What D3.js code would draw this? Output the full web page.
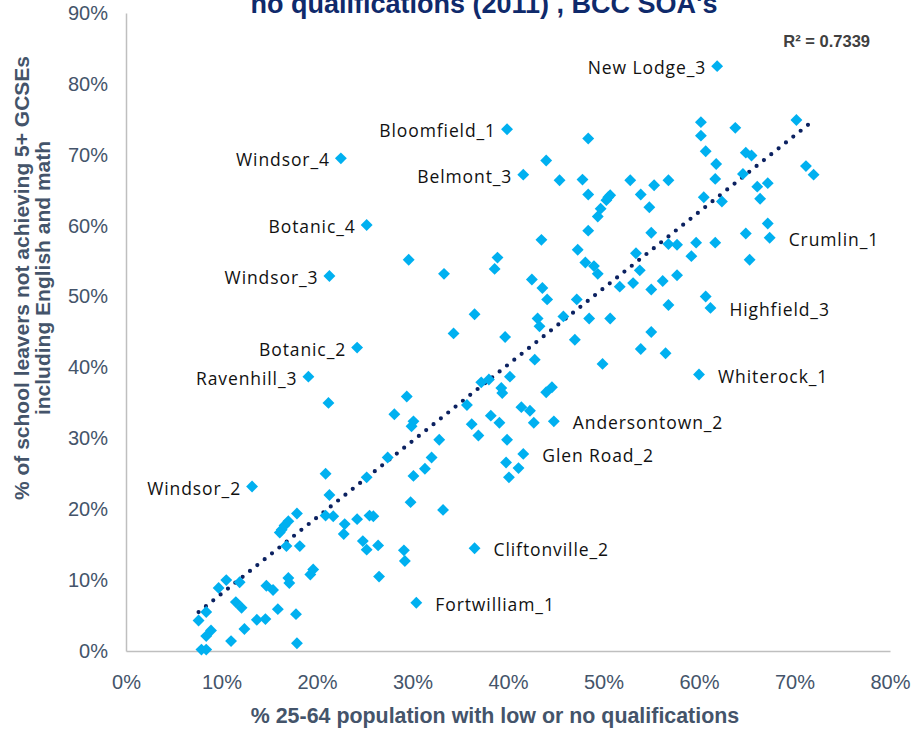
<!DOCTYPE html>
<html>
<head>
<meta charset="utf-8">
<script src="https://cdn.jsdelivr.net/npm/d3@7"></script>
<style>
  html, body { margin: 0; padding: 0; background: #fff; }
  svg { display: block; }
</style>
</head>
<body>
<div id="chart"></div>
<script>
// ---- Data (percent values) ----
const labelNames = ["New Lodge_3","Bloomfield_1","Windsor_4","Belmont_3","Botanic_4","Windsor_3","Botanic_2","Ravenhill_3","Windsor_2",
  "Crumlin_1","Highfield_3","Whiterock_1","Andersontown_2","Glen Road_2","Cliftonville_2","Fortwilliam_1"];
const rightSideLabels = ["Crumlin_1","Highfield_3","Whiterock_1","Andersontown_2","Glen Road_2","Cliftonville_2","Fortwilliam_1"];

// % 25-64 population with low or no qualifications (first 16 are the labelled SOAs)
const lowQual = [61.9,39.9,22.5,41.6,25.2,21.3,24.2,19.1,13.2,67.4,61.2,60.0,44.8,41.6,36.5,30.4,
  20.9,21.3,20.9,21.7,17.9,17.0,16.6,16.3,16.1,16.8,18.2,19.6,19.3,17.0,17.1,15.9,17.8,17.9,14.7,15.4,13.7,14.6,12.4,11.0,11.9,10.5,9.7,11.5,12.1,7.6,8.4,8.9,8.4,7.9,8.4,
  22.9,22.8,24.2,25.5,25.9,24.8,25.2,26.4,26.5,29.1,29.2,29.8,33.2,30.1,31.3,32.0,32.8,29.9,30.1,27.4,25.2,36.2,36.9,39.1,39.9,39.8,41.1,40.1,42.7,
  21.2,29.6,33.3,36.5,34.3,29.4,28.1,35.7,38.2,37.2,38.0,39.3,39.4,40.2,39.7,42.8,43.1,43.3,45.8,47.0,47.2,41.4,42.3,44.0,44.6,43.5,38.9,38.6,42.5,43.6,44.1,47.3,
  54.8,49.7,49.4,48.4,48.1,49.0,49.4,48.5,50.7,49.9,55.0,53.4,53.8,53.1,51.7,55.0,56.2,56.8,57.7,59.7,59.2,57.7,56.8,55.0,53.9,56.5,60.7,61.7,64.9,65.3,67.2,
  70.2,60.2,60.2,63.8,60.7,48.4,64.9,65.5,61.8,64.6,71.2,72.0,61.7,66.1,67.2,66.4,60.5,62.4,45.4,47.8,48.4,52.8,53.9,55.3,56.8,50.5,50.7,50.3,44.0];

// % of school leavers not achieving 5+ GCSEs including English and maths
const noGcse = [82.5,73.6,69.5,67.2,60.1,52.9,42.8,38.7,23.2,58.3,48.4,39.0,32.4,27.8,14.5,6.8,
  25.0,22.0,19.1,19.0,19.4,18.3,17.7,17.1,16.7,14.8,14.8,11.5,10.8,10.3,9.6,5.9,5.2,1.1,9.2,8.6,4.4,4.5,3.1,1.4,9.7,10.0,8.9,6.9,6.1,4.3,5.5,2.9,2.1,0.2,0.2,
  17.9,16.5,18.6,19.1,19.0,15.5,14.3,14.9,10.5,14.2,12.7,21.0,19.9,24.7,25.7,27.3,29.8,31.7,32.4,27.3,24.5,32.0,30.4,32.2,29.8,26.6,25.8,24.5,32.2,
  35.0,55.2,53.2,47.5,44.8,35.9,33.4,34.7,33.2,37.9,38.3,37.1,36.4,38.7,44.3,41.1,46.9,45.8,47.2,43.9,49.6,34.4,33.9,36.5,37.2,58.0,55.5,53.9,52.4,51.2,49.6,56.6,
  62.6,62.4,61.3,59.3,54.8,54.3,53.2,46.9,46.9,40.5,59.0,56.1,53.7,51.9,51.4,51.0,52.2,57.4,57.3,57.6,55.7,53.0,48.8,45.0,42.6,42.0,50.0,57.6,58.9,55.2,60.3,
  74.9,74.6,72.7,73.8,70.5,72.3,70.3,69.9,68.7,67.3,68.4,67.2,66.6,65.5,66.0,63.8,64.0,63.4,66.4,66.5,64.4,66.4,64.4,65.7,66.4,64.0,64.3,63.6,69.2];

// Linear trend line (as drawn in the reference) and its R²
const trendRange = [7.6, 71.6];
const trendSlope = 1.077;
const trendIntercept = -2.69;
const rSquared = "0.7339";

const xTicks = [0,10,20,30,40,50,60,70,80];
const yTicks = [0,10,20,30,40,50,60,70,80,90];

const titleText = "no qualifications (2011) , BCC SOA's";
const xTitle = "% 25-64 population with low or no qualifications";
const yTitle1 = "% of school  leavers not achieving 5+ GCSEs";
const yTitle2 = "including English  and math";

// ---- Drawing ----
const W = 915, H = 731;
const svg = d3.select("#chart").append("svg").attr("width", W).attr("height", H);

const x = d3.scaleLinear().domain([0, 80]).range([126, 890]);
const y = d3.scaleLinear().domain([0, 90]).range([651, 13]);

const axisColor = "#BFBFBF";
const tickColor = "#44546A";

// x axis
const gx = svg.append("g").attr("transform", `translate(0,${y(0)})`)
  .call(d3.axisBottom(x).tickValues(xTicks).tickSize(0).tickPadding(24).tickFormat(d => d + "%"));
gx.select(".domain").attr("stroke", axisColor).attr("stroke-width", 1.5);
gx.selectAll("text").attr("fill", tickColor).attr("font-family", "Liberation Sans, Arial, sans-serif").attr("font-size", 20);

// y axis
const gy = svg.append("g").attr("transform", `translate(${x(0)},0)`)
  .call(d3.axisLeft(y).tickValues(yTicks).tickSize(0).tickPadding(18).tickFormat(d => d + "%"));
gy.select(".domain").attr("stroke", axisColor).attr("stroke-width", 1.5);
gy.selectAll("text").attr("fill", tickColor).attr("font-family", "Liberation Sans, Arial, sans-serif").attr("font-size", 20);

// points
const pts = lowQual.map((v, i) => ({ x: v, y: noGcse[i], name: i < labelNames.length ? labelNames[i] : "" }));
const diamond = d3.symbol().type(d3.symbolDiamond2).size(90);

// trend line (dotted)
const tl = d3.line().x(d => x(d)).y(d => y(trendSlope * d + trendIntercept));
svg.append("path").datum(trendRange).attr("d", tl)
  .attr("fill", "none").attr("stroke", "#0B2160").attr("stroke-width", 4.2)
  .attr("stroke-linecap", "round").attr("stroke-dasharray", "0 9.4");

svg.append("g").selectAll("path").data(pts).join("path")
  .attr("d", diamond)
  .attr("transform", d => `translate(${x(d.x)},${y(d.y)})`)
  .attr("fill", "#00B0F0");

// data labels
svg.append("g").selectAll("text").data(pts.filter(d => d.name)).join("text")
  .attr("x", d => rightSideLabels.includes(d.name) ? x(d.x) + 19 : x(d.x) - 11)
  .attr("y", d => y(d.y) + 2)
  .attr("dy", "0.35em")
  .attr("text-anchor", d => rightSideLabels.includes(d.name) ? "start" : "end")
  .attr("font-family", "Open Sans, sans-serif")
  .attr("font-size", 17.5)
  .attr("letter-spacing", 0.9)
  .attr("fill", "#111")
  .text(d => d.name);

// R² label
svg.append("text").attr("x", 870).attr("y", 47).attr("text-anchor", "end")
  .attr("font-family", "Liberation Sans, Arial, sans-serif").attr("font-weight", "bold")
  .attr("font-size", 16.5).attr("fill", "#404040")
  .text("R² = " + rSquared);

// title (cut off at top as in reference)
svg.append("text").attr("x", 484).attr("y", 13).attr("text-anchor", "middle")
  .attr("font-family", "Liberation Sans, Arial, sans-serif").attr("font-weight", "bold")
  .attr("font-size", 27).attr("fill", "#0F2A6B")
  .text(titleText);

// x title
svg.append("text").attr("x", 495).attr("y", 723).attr("text-anchor", "middle")
  .attr("font-family", "Liberation Sans, Arial, sans-serif").attr("font-weight", "bold")
  .attr("font-size", 21.4).attr("fill", tickColor)
  .text(xTitle);

// y title (two lines)
const ytg = svg.append("g").attr("font-family", "Liberation Sans, Arial, sans-serif")
  .attr("font-weight", "bold").attr("font-size", 21).attr("fill", tickColor).attr("text-anchor", "middle");
ytg.append("text").attr("transform", "translate(29,278) rotate(-90)").text(yTitle1);
ytg.append("text").attr("transform", "translate(50,278) rotate(-90)").text(yTitle2);
</script>
</body>
</html>
